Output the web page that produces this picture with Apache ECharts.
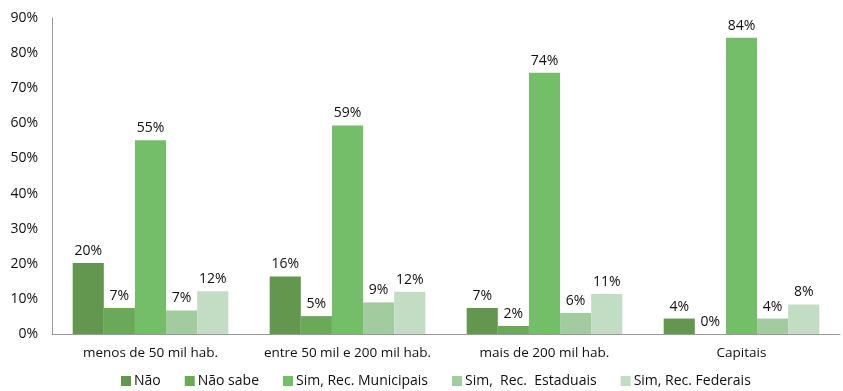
<!DOCTYPE html>
<html><head><meta charset="utf-8">
<script src="https://cdn.jsdelivr.net/npm/echarts@6/dist/echarts.min.js"></script>
<style>html,body{margin:0;padding:0;background:#fff}#c{width:843px;height:391px}</style>
</head><body><div id="c"></div>
<script>
const categories = ['menos de 50 mil hab.', 'entre 50 mil e 200 mil hab.', 'mais de 200 mil hab.', 'Capitais'];
const seriesNames = ['Não', 'Não sabe', 'Sim, Rec. Municipais', 'Sim,  Rec.  Estaduais', 'Sim, Rec. Federais'];
const nao = [20.2, 16.4, 7.4, 4.4];
const naoSabe = [7.4, 5.1, 2.3, 0];
const municipais = [55.2, 59.4, 74.4, 84.4];
const estaduais = [6.7, 9.0, 6.0, 4.4];
const federais = [12.2, 12.0, 11.4, 8.4];
const yTicks = [0, 10, 20, 30, 40, 50, 60, 70, 80, 90];

const colors = ['#63974f', '#6aa85a', '#74be6a', '#a2cba0', '#c3dcc4'];
const font = 'Open Sans';
const data = [nao, naoSabe, municipais, estaduais, federais];
const chart = echarts.init(document.getElementById('c'));
chart.setOption({
  animation: false,
  textStyle: {fontFamily: font},
  grid: {left: 52, right: 3, top: 18, bottom: 57},
  legend: {
    bottom: -2, left: 116, itemWidth: 10, itemHeight: 10, itemGap: 24,
    icon: 'rect',
    textStyle: {fontFamily: font, fontSize: 14, color: '#111', padding: [0, 0, 0, -2]},
    data: seriesNames
  },
  xAxis: {
    type: 'category', data: categories,
    axisLine: {lineStyle: {color: '#999'}},
    axisTick: {show: false},
    axisLabel: {fontFamily: font, fontSize: 13.5, color: '#111', margin: 12, interval: 0, hideOverlap: false}
  },
  yAxis: {
    type: 'value', min: 0, max: 90, interval: 10,
    splitLine: {show: false},
    axisLine: {show: true, lineStyle: {color: '#999'}},
    axisTick: {show: false},
    axisLabel: {fontFamily: font, fontSize: 14, color: '#111', margin: 14,
      formatter: v => yTicks.includes(v) ? v + '%' : ''}
  },
  series: data.map((d, i) => ({
    name: seriesNames[i], type: 'bar', data: d,
    barGap: '0%', barCategoryGap: '21%',
    itemStyle: {color: colors[i]},
    label: {show: true, position: 'top', distance: 5, fontFamily: font, fontSize: 14, color: '#111',
      formatter: p => Math.round(p.value) + '%'}
  }))
});
</script></body></html>
